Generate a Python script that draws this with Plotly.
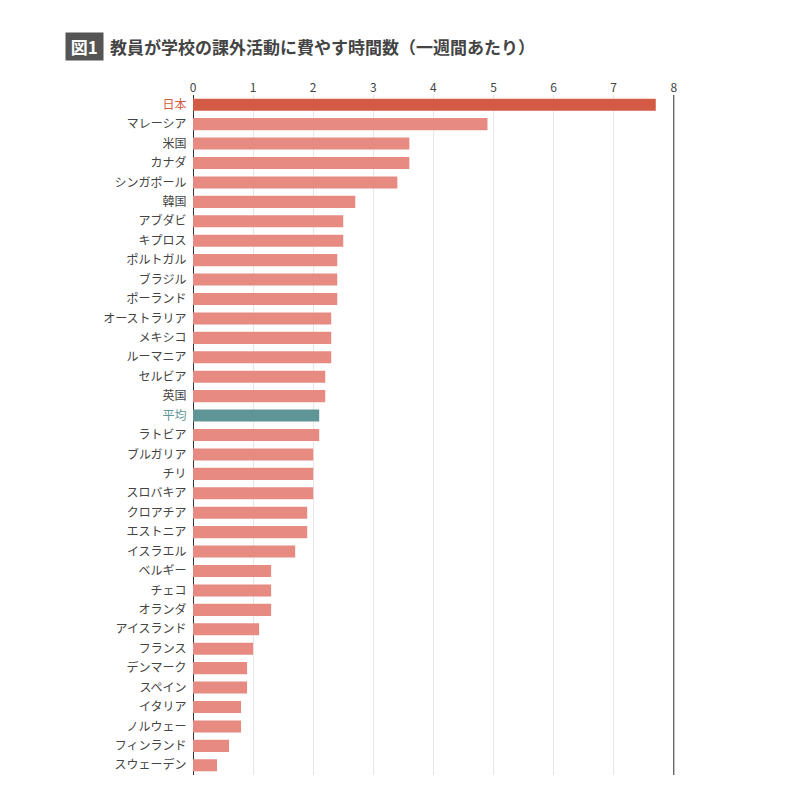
import plotly.graph_objects as go

countries = ["日本", "マレーシア", "米国", "カナダ", "シンガポール", "韓国", "アブダビ", "キプロス",
             "ポルトガル", "ブラジル", "ポーランド", "オーストラリア", "メキシコ", "ルーマニア", "セルビア",
             "英国", "平均", "ラトビア", "ブルガリア", "チリ", "スロバキア", "クロアチア", "エストニア",
             "イスラエル", "ベルギー", "チェコ", "オランダ", "アイスランド", "フランス", "デンマーク",
             "スペイン", "イタリア", "ノルウェー", "フィンランド", "スウェーデン"]
hours = [7.7, 4.9, 3.6, 3.6, 3.4, 2.7, 2.5, 2.5, 2.4, 2.4, 2.4, 2.3, 2.3, 2.3, 2.2,
         2.2, 2.1, 2.1, 2.0, 2.0, 2.0, 1.9, 1.9, 1.7, 1.3, 1.3, 1.3, 1.1, 1.0, 0.9,
         0.9, 0.8, 0.8, 0.6, 0.4]
tick_vals = [0, 1, 2, 3, 4, 5, 6, 7, 8]

def bar_color(c):
    if c == "日本":
        return "#d35b45"
    if c == "平均":
        return "#5f9597"
    return "#e68a82"

def label(c):
    if c == "日本":
        return "<span style='color:#d35b45'>日本</span>"
    if c == "平均":
        return "<span style='color:#5f9597'>平均</span>"
    return c

fig = go.Figure(go.Bar(
    x=hours, y=[label(c) for c in countries], orientation="h",
    marker=dict(color=[bar_color(c) for c in countries], line_width=0),
))
fig.update_layout(
    width=800, height=787, plot_bgcolor="white", paper_bgcolor="white",
    margin=dict(l=185, r=133, t=87, b=20, autoexpand=False), bargap=0.38, showlegend=False,
    font=dict(family="Noto Sans CJK JP", size=13, color="#444"),
    annotations=[
        dict(text="<b> 図1 </b>", x=57, y=38, xref="paper", yref="paper", showarrow=False,
             xanchor="left", yanchor="middle",
             bgcolor="#555", font=dict(color="white", size=17)),
        dict(text="<b>教員が学校の課外活動に費やす時間数（一週間あたり）</b>", x=100, y=38,
             xref="paper", yref="paper", showarrow=False, xanchor="left", yanchor="middle",
             font=dict(size=17, color="#444")),
        dict(text="（時間）", x=8.05, y=1, xref="x", yref="paper", yshift=16, showarrow=False,
             xanchor="left", yanchor="middle", font=dict(size=11, color="#444")),
    ],
)
W, H = 800, 787
pw, ph = W - 185 - 133, H - 87 - 20
for a in fig.layout.annotations[:2]:
    a.x = (a.x - 185) / pw
    a.y = 1 + (87 - a.y) / ph
fig.update_xaxes(side="top", range=[0, 8.02], tickvals=tick_vals,
                 showgrid=True, gridcolor="#e6e6e6", zeroline=True, zerolinecolor="#333",
                 zerolinewidth=1, tickfont=dict(size=12, color="#444"), ticks="",
                 automargin=False)
fig.update_yaxes(autorange="reversed", tickfont=dict(size=12, color="#444"), ticks="",
                 ticksuffix="  ", automargin=False)
fig.add_vline(x=8, line_color="#333", line_width=1)
fig.write_html("out.html")
